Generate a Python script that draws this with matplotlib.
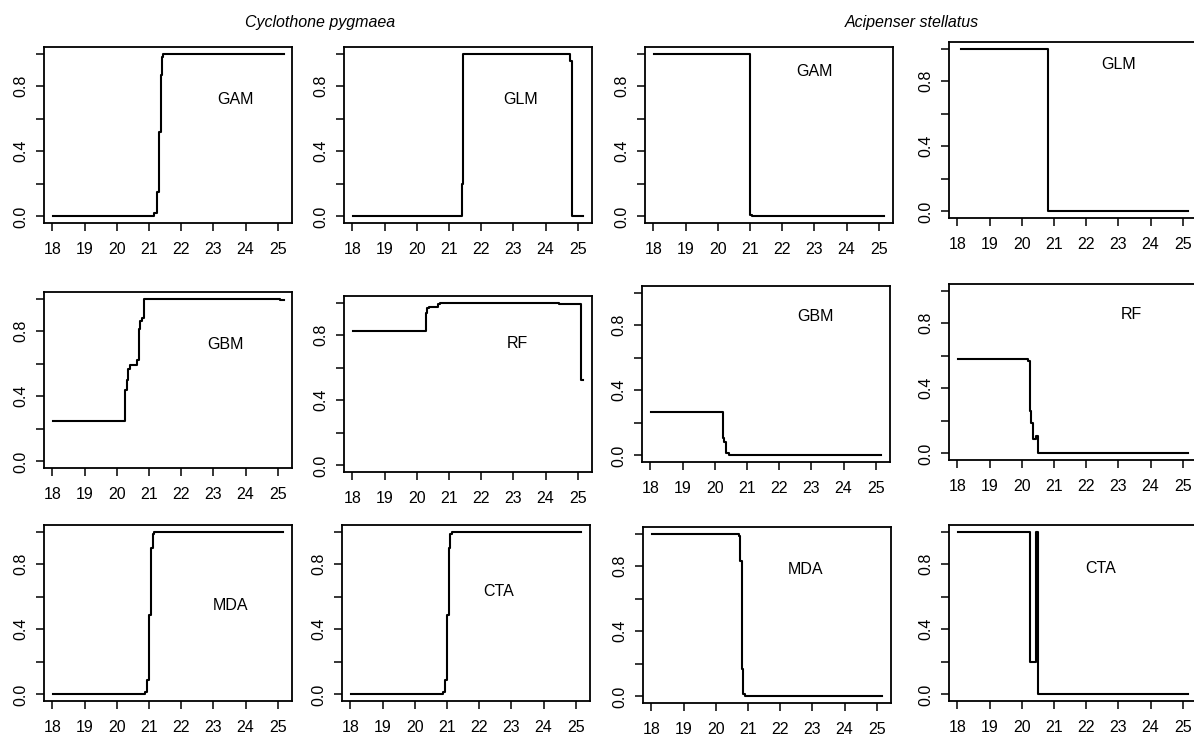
import matplotlib
matplotlib.use("Agg")
import matplotlib.pyplot as plt

plt.rcParams['font.family'] = ['Liberation Sans', 'DejaVu Sans']

# ---- data: step curves of predicted probability vs. temperature ----
species = ["Cyclothone pygmaea", "Acipenser stellatus"]

cp_gam_x = [18.03, 21.16, 21.24, 21.30, 21.36, 21.41, 21.45, 25.18]
cp_gam_y = [0.0, 0.02, 0.15, 0.52, 0.87, 0.98, 1.0, 1.0]

cp_glm_x = [18.03, 21.39, 21.44, 24.77, 24.82, 25.17]
cp_glm_y = [0.0, 0.2, 1.0, 0.955, 0.0, 0.0]

as_gam_x = [18.02, 21.01, 21.06, 25.15]
as_gam_y = [1.0, 0.01, 0.0, 0.0]

as_glm_x = [18.1, 20.82, 25.15]
as_glm_y = [1.0, 0.0, 0.0]

cp_gbm_x = [18.03, 20.27, 20.31, 20.35, 20.40, 20.64, 20.68, 20.72, 20.79, 20.83, 25.07, 25.18]
cp_gbm_y = [0.25, 0.44, 0.50, 0.57, 0.59, 0.62, 0.81, 0.86, 0.88, 1.0, 0.99, 0.99]

cp_rf_x = [18.03, 20.28, 20.33, 20.38, 20.66, 20.72, 20.90, 24.41, 25.10, 25.17]
cp_rf_y = [0.825, 0.935, 0.965, 0.975, 0.99, 0.995, 1.0, 0.99, 0.525, 0.525]

as_gbm_x = [18.03, 20.27, 20.30, 20.35, 20.43, 25.16]
as_gbm_y = [0.265, 0.11, 0.08, 0.016, 0.0, 0.0]

as_rf_x = [18.03, 20.19, 20.25, 20.30, 20.35, 20.45, 20.50, 25.15]
as_rf_y = [0.58, 0.57, 0.26, 0.19, 0.09, 0.11, 0.0, 0.0]

cp_mda_x = [18.03, 20.89, 20.95, 20.99, 21.05, 21.11, 21.15, 25.16]
cp_mda_y = [0.0, 0.015, 0.09, 0.49, 0.9, 0.985, 1.0, 1.0]

cp_cta_x = [18.03, 20.89, 20.95, 20.99, 21.05, 21.10, 21.15, 25.16]
cp_cta_y = [0.0, 0.015, 0.09, 0.49, 0.9, 0.985, 1.0, 1.0]

as_mda_x = [18.03, 20.71, 20.76, 20.81, 20.86, 20.91, 25.15]
as_mda_y = [1.0, 0.985, 0.83, 0.17, 0.016, 0.0, 0.0]

as_cta_x = [18.03, 20.27, 20.45, 20.50, 25.15]
as_cta_y = [1.0, 0.2, 1.0, 0.0, 0.0]

x_ticks = [18, 19, 20, 21, 22, 23, 24, 25]
y_ticks = [0.0, 0.2, 0.4, 0.6, 0.8, 1.0]
y_tick_labels = ["0.0", "", "0.4", "", "0.8", ""]

# ---- layout ----
W, H = 1194, 738
fig = plt.figure(figsize=(W / 100, H / 100), dpi=100)
fig.patch.set_facecolor("white")

PW, PH = 248, 176
panels = [
    # (left px, top px, x, y, model, label x, label y)
    (44, 47, cp_gam_x, cp_gam_y, "GAM", 23.70, 0.72),
    (344, 47, cp_glm_x, cp_glm_y, "GLM", 23.22, 0.72),
    (645, 47, as_gam_x, as_gam_y, "GAM", 23.00, 0.89),
    (949, 42, as_glm_x, as_glm_y, "GLM", 23.00, 0.90),
    (44, 292, cp_gbm_x, cp_gbm_y, "GBM", 23.36, 0.715),
    (344, 296, cp_rf_x, cp_rf_y, "RF", 23.12, 0.75),
    (642, 286, as_gbm_x, as_gbm_y, "GBM", 23.12, 0.855),
    (949, 284, as_rf_x, as_rf_y, "RF", 23.39, 0.85),
    (44, 525, cp_mda_x, cp_mda_y, "MDA", 23.52, 0.545),
    (342, 525, cp_cta_x, cp_cta_y, "CTA", 22.60, 0.635),
    (643, 527, as_mda_x, as_mda_y, "MDA", 22.79, 0.78),
    (949, 525, as_cta_x, as_cta_y, "CTA", 22.44, 0.775),
]

FS = 11.5
for left, top, xs, ys, model, lx, ly in panels:
    ax = fig.add_axes([left / W, 1 - (top + PH) / H, PW / W, PH / H])
    ax.step(xs, ys, where="post", color="black", lw=1.5)
    ax.set_xlim(17.74, 25.44)
    ax.set_ylim(-0.04, 1.04)
    ax.set_xticks(x_ticks)
    ax.set_xticklabels([str(t) for t in x_ticks], fontsize=FS)
    ax.set_yticks(y_ticks)
    ax.set_yticklabels(y_tick_labels, fontsize=FS, rotation=90, va="center")
    ax.tick_params(axis="both", direction="out", length=6, width=1.1, color="black")
    ax.tick_params(axis="x", pad=8)
    ax.tick_params(axis="y", pad=5)
    for s in ax.spines.values():
        s.set_linewidth(1.3)
        s.set_color("black")
    ax.text(lx, ly, model, fontsize=FS, ha="center", va="center")

fig.text(320 / W, 1 - 22 / H, species[0], fontsize=FS, style="italic",
         ha="center", va="center")
fig.text(912 / W, 1 - 22 / H, species[1], fontsize=FS, style="italic",
         ha="center", va="center")

fig.savefig("out.png", dpi=100, facecolor="white")
